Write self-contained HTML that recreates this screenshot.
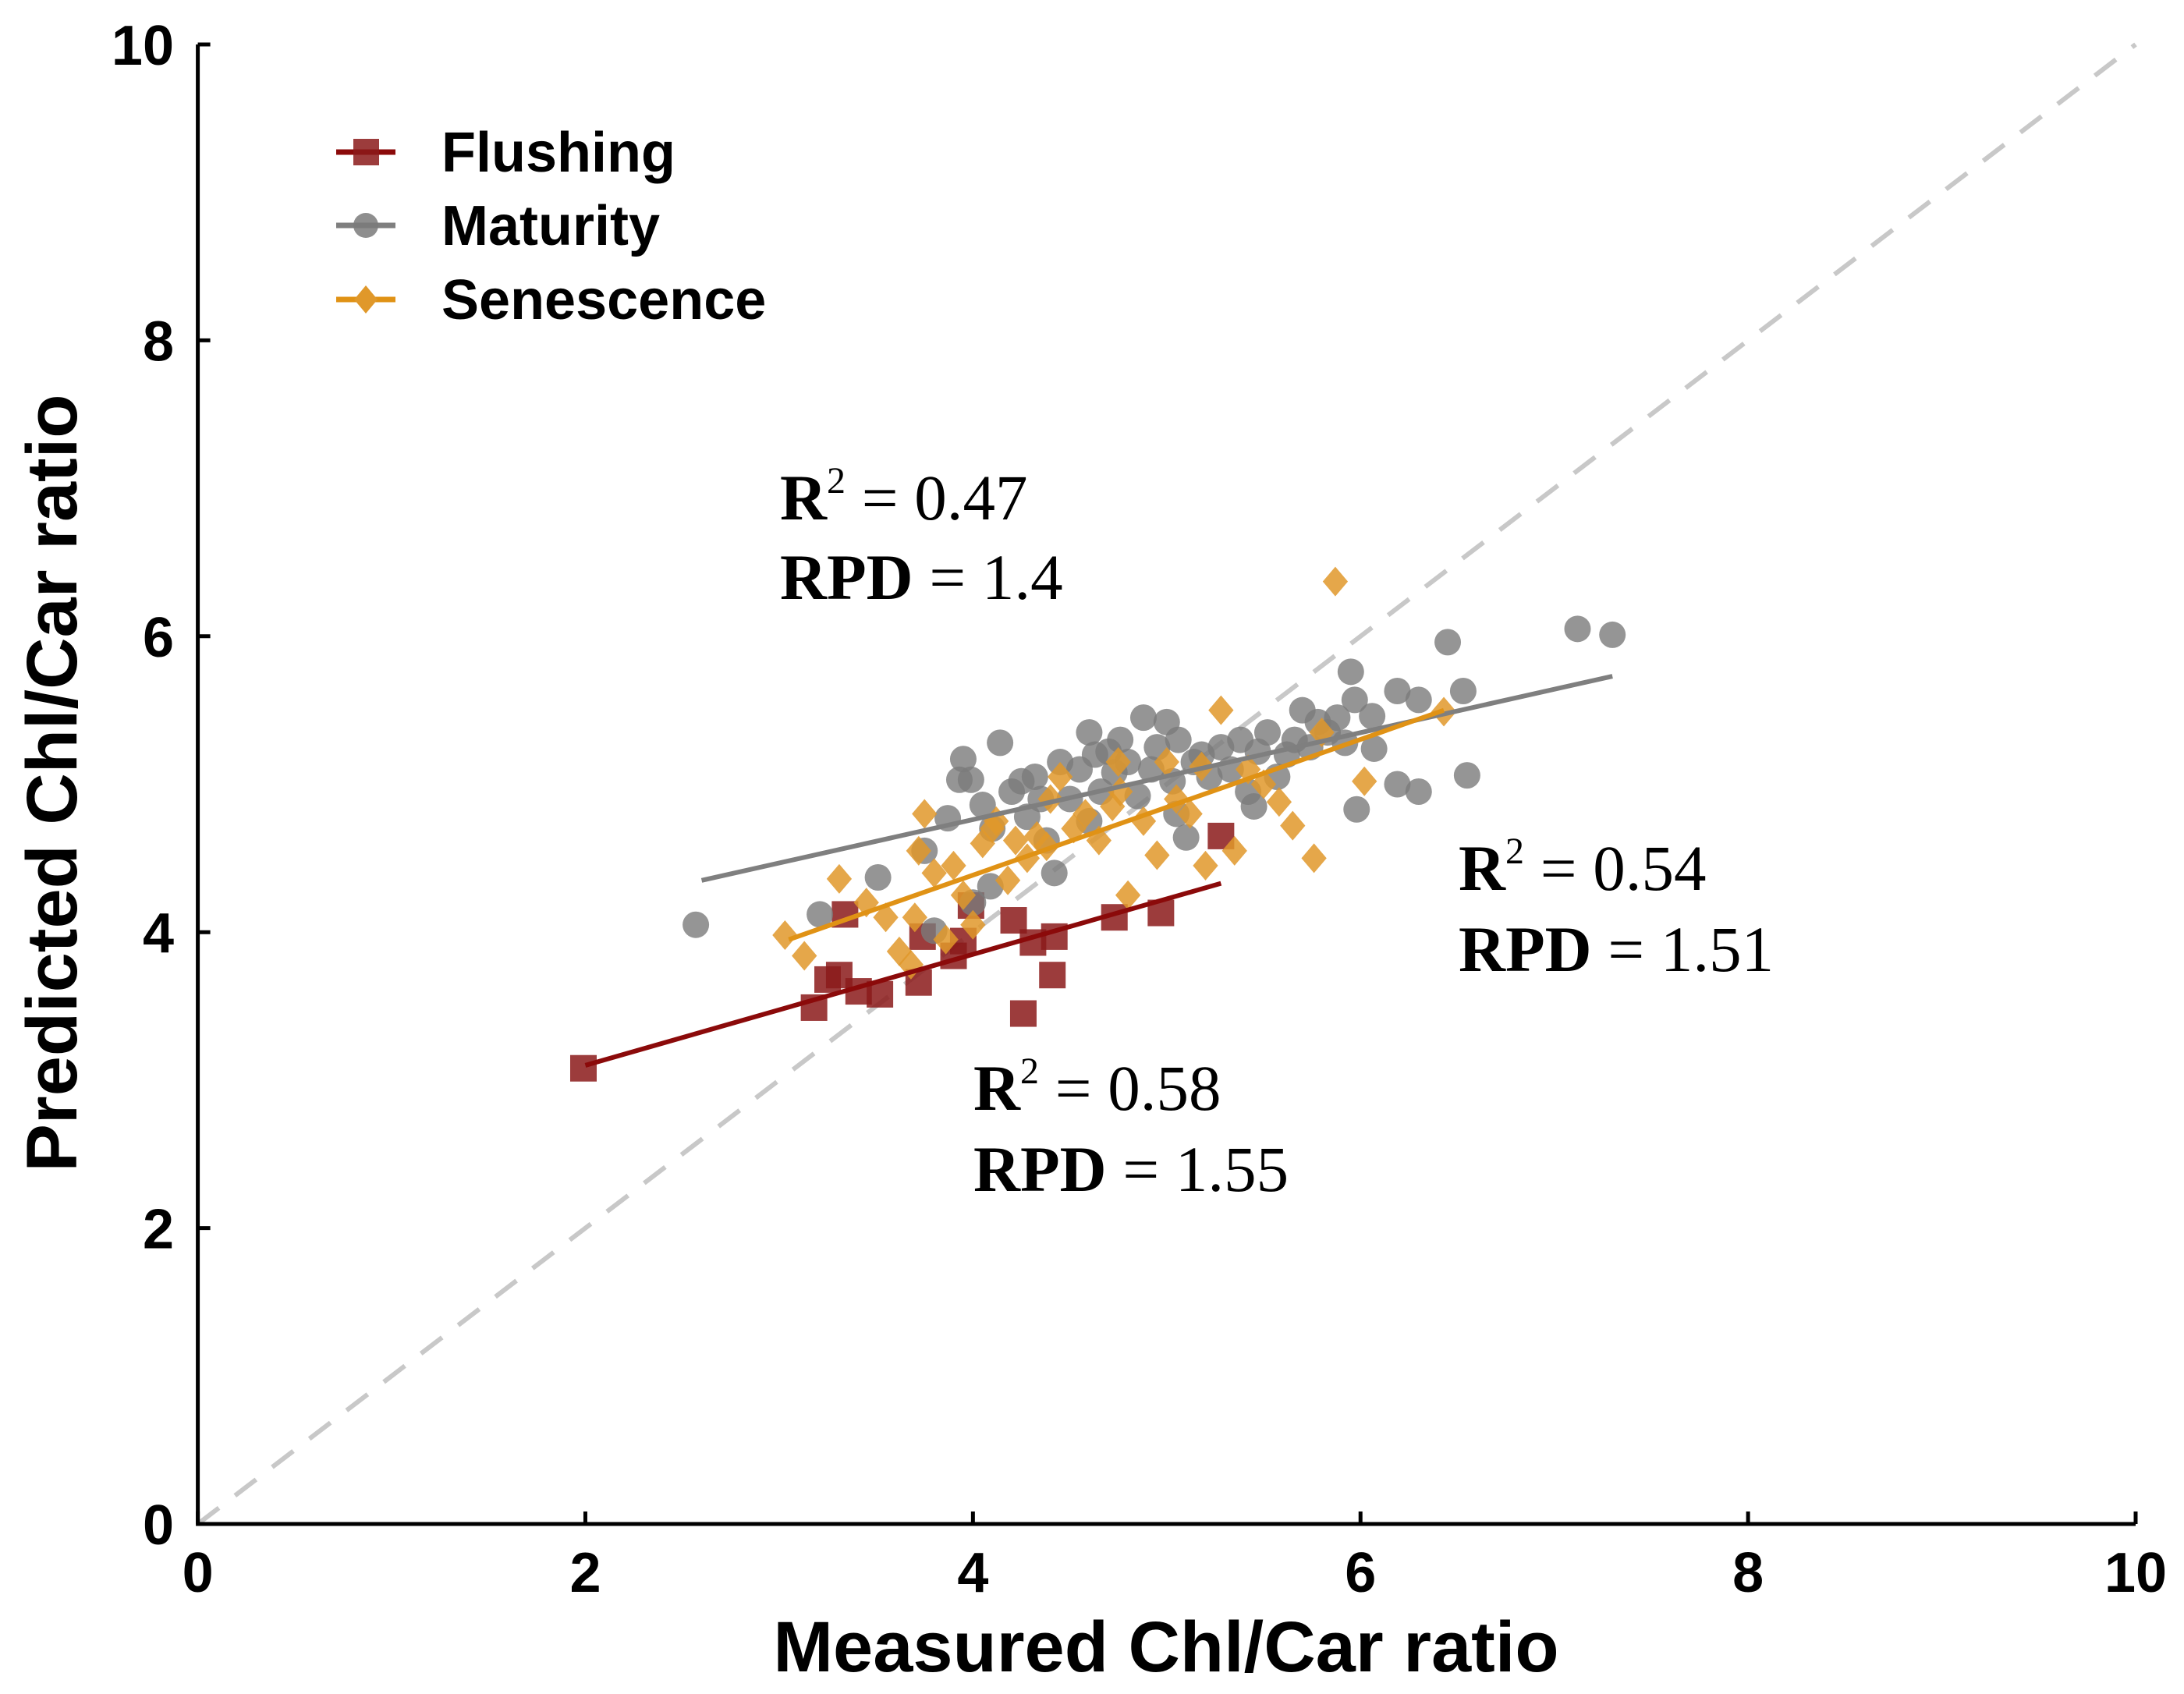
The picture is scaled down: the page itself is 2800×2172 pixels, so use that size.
<!DOCTYPE html>
<html><head><meta charset="utf-8"><style>
html,body{margin:0;padding:0;background:#fff;}
svg{display:block;}
.tk{font-family:"Liberation Sans",Arial,sans-serif;font-weight:bold;font-size:72px;fill:#000;}
.at{font-family:"Liberation Sans",Arial,sans-serif;font-weight:bold;font-size:92px;fill:#000;}
.lg{font-family:"Liberation Sans",Arial,sans-serif;font-weight:bold;font-size:72px;fill:#000;}
.an{font-family:"Liberation Serif","Times New Roman",serif;font-size:83px;fill:#000;}
</style></head><body>
<svg id="chart" width="2800" height="2172" viewBox="0 0 2800 2172" xmlns="http://www.w3.org/2000/svg">
<g id="plot"></g>
</svg>
<script>
const xTicks=[0,2,4,6,8,10];
const yTicks=[0,2,4,6,8,10];
const flushX=[1.99,3.18,3.25,3.31,3.34,3.41,3.52,3.72,3.74,3.90,3.95,3.99,4.21,4.26,4.31,4.41,4.42,4.73,4.97,5.28];
const flushY=[3.08,3.49,3.68,3.71,4.12,3.60,3.58,3.66,3.97,3.84,3.94,4.18,4.08,3.45,3.93,3.71,3.97,4.10,4.13,4.65];
const matX=[2.57,3.21,3.51,3.80,3.87,3.93,3.95,3.99,4.05,4.09,4.14,4.20,4.25,4.28,4.32,4.38,4.42,4.45,4.50,4.55,4.60,4.63,4.66,4.70,4.73,4.76,4.80,4.85,4.88,4.92,4.95,5.00,5.03,5.06,5.10,5.14,5.18,5.22,5.28,5.33,5.38,5.42,5.47,5.52,5.57,5.62,5.66,5.70,5.74,5.78,5.83,5.88,5.92,5.95,5.97,5.98,6.06,6.07,6.19,6.19,6.30,6.30,6.45,6.53,6.55,7.12,7.30,4.00,4.35,4.60,5.05,3.75,4.10,5.45];
const matY=[4.05,4.12,4.37,4.01,4.77,5.03,5.17,5.03,4.86,4.31,5.28,4.95,5.02,4.78,5.05,4.62,4.40,5.15,4.90,5.10,5.35,5.20,4.95,5.22,5.08,5.30,5.15,4.92,5.45,5.10,5.25,5.42,5.02,5.30,4.64,5.15,5.20,5.05,5.25,5.10,5.30,4.95,5.22,5.35,5.05,5.20,5.30,5.50,5.25,5.42,5.35,5.45,5.28,5.76,5.57,4.83,5.46,5.24,5.63,5.00,5.57,4.95,5.96,5.63,5.06,6.05,6.01,4.20,4.90,4.75,4.80,4.55,4.70,4.85];
const senX=[3.03,3.13,3.31,3.45,3.55,3.62,3.68,3.72,3.75,3.80,3.86,3.90,3.95,4.00,4.05,4.12,4.18,4.22,4.28,4.33,4.38,4.45,4.52,4.58,4.65,4.72,4.76,4.80,4.88,4.95,5.00,5.05,5.12,5.18,5.20,5.28,5.35,5.42,5.50,5.58,5.65,5.76,5.80,5.87,6.02,6.43,3.70,4.10,4.40,4.75];
const senY=[3.98,3.84,4.36,4.20,4.10,3.87,3.78,4.55,4.80,4.40,3.95,4.45,4.25,4.05,4.60,4.75,4.35,4.62,4.50,4.65,4.58,5.05,4.70,4.80,4.62,4.85,4.95,4.25,4.75,4.52,5.15,4.90,4.80,5.12,4.45,5.50,4.55,5.10,5.00,4.88,4.72,4.50,5.35,6.37,5.02,5.49,4.10,4.70,4.90,5.15];
const fitLines=[{n:'flushing',x:[2.0,5.28],y:[3.10,4.33],c:'#8b0a0a'},{n:'maturity',x:[2.6,7.3],y:[4.35,5.73],c:'#7f7f7f'},{n:'senescence',x:[3.05,6.43],y:[3.95,5.50],c:'#e09215'}];

const NS='http://www.w3.org/2000/svg';
const X0=253.6,X1=2738,Y0=1954,Y1=57;
const sx=v=>X0+(X1-X0)*v/10;
const sy=v=>Y0-(Y0-Y1)*v/10;
const g=document.getElementById('plot');
function mk(t,a,p){const e=document.createElementNS(NS,t);for(const k in a)e.setAttribute(k,a[k]);(p||g).appendChild(e);return e;}

let d=mk('line',{x1:sx(0),y1:sy(0),x2:sx(10),y2:sy(10),stroke:'#c8c8c8','stroke-width':6,'stroke-dasharray':'34,26'});



flushX.forEach((x,i)=>{const s=34;const e=mk('rect',{x:sx(x)-s/2,y:sy(flushY[i])-s/2,width:s,height:s,fill:'#8b1a1a','fill-opacity':0.85});

});
matX.forEach((x,i)=>{const e=mk('circle',{cx:sx(x),cy:sy(matY[i]),r:17,fill:'#7a7a7a','fill-opacity':0.8});

});
senX.forEach((x,i)=>{const cx=sx(x),cy=sy(senY[i]),r=19;const e=mk('polygon',{points:`${cx},${cy-r} ${cx+r*0.85},${cy} ${cx},${cy+r} ${cx-r*0.85},${cy}`,fill:'#e0982a','fill-opacity':0.85});

});
fitLines.forEach(f=>{const e=mk('line',{x1:sx(f.x[0]),y1:sy(f.y[0]),x2:sx(f.x[1]),y2:sy(f.y[1]),stroke:f.c,'stroke-width':6});

});

let ax=mk('path',{d:`M${X0},${Y1} V${Y0} H${X1}`,stroke:'#000','stroke-width':5,fill:'none'});


xTicks.forEach(v=>{const x=sx(v);mk('line',{x1:x,y1:Y0,x2:x,y2:Y0-16,stroke:'#000','stroke-width':5});
const t=mk('text',{x:x,y:2041,'text-anchor':'middle',class:'tk'});t.textContent=v;

});
yTicks.forEach(v=>{const y=sy(v);mk('line',{x1:X0,y1:y,x2:X0+16,y2:y,stroke:'#000','stroke-width':5});
const t=mk('text',{x:223,y:y+26,'text-anchor':'end',class:'tk'});t.textContent=v;

});
</script>
<svg style="position:absolute;left:0;top:0" width="2800" height="2172" xmlns="http://www.w3.org/2000/svg">
<text class="at" x="1495" y="2143" text-anchor="middle">Measured Chl/Car ratio</text>
<text class="at" transform="translate(98,1004) rotate(-90)" text-anchor="middle">Predicted Chl/Car ratio</text>
<g>
<g><line x1="431" y1="195" x2="507" y2="195" stroke="#8b0a0a" stroke-width="7"/><rect x="453" y="178" width="33" height="34" fill="#8b1a1a" fill-opacity="0.85"/><text class="lg" x="566" y="220">Flushing</text></g>
<g><line x1="431" y1="289" x2="507" y2="289" stroke="#7f7f7f" stroke-width="7"/><circle cx="469" cy="289" r="16" fill="#7a7a7a" fill-opacity="0.85"/><text class="lg" x="566" y="314">Maturity</text></g>
<g><line x1="431" y1="384" x2="507" y2="384" stroke="#e09215" stroke-width="7"/><polygon points="469,366 484,384 469,402 454,384" fill="#e0982a"/><text class="lg" x="566" y="409">Senescence</text></g>
</g>
<g><text class="an" x="1000" y="666"><tspan font-weight="bold">R</tspan><tspan font-size="48" dy="-34">2</tspan><tspan dy="34"> = 0.47</tspan></text><text class="an" x="1000" y="768"><tspan font-weight="bold">RPD</tspan> = 1.4</text></g>
<g><text class="an" x="1870" y="1141"><tspan font-weight="bold">R</tspan><tspan font-size="48" dy="-34">2</tspan><tspan dy="34"> = 0.54</tspan></text><text class="an" x="1870" y="1245"><tspan font-weight="bold">RPD</tspan> = 1.51</text></g>
<g><text class="an" x="1248" y="1423"><tspan font-weight="bold">R</tspan><tspan font-size="48" dy="-34">2</tspan><tspan dy="34"> = 0.58</tspan></text><text class="an" x="1248" y="1527"><tspan font-weight="bold">RPD</tspan> = 1.55</text></g>
</svg>
</body></html>
